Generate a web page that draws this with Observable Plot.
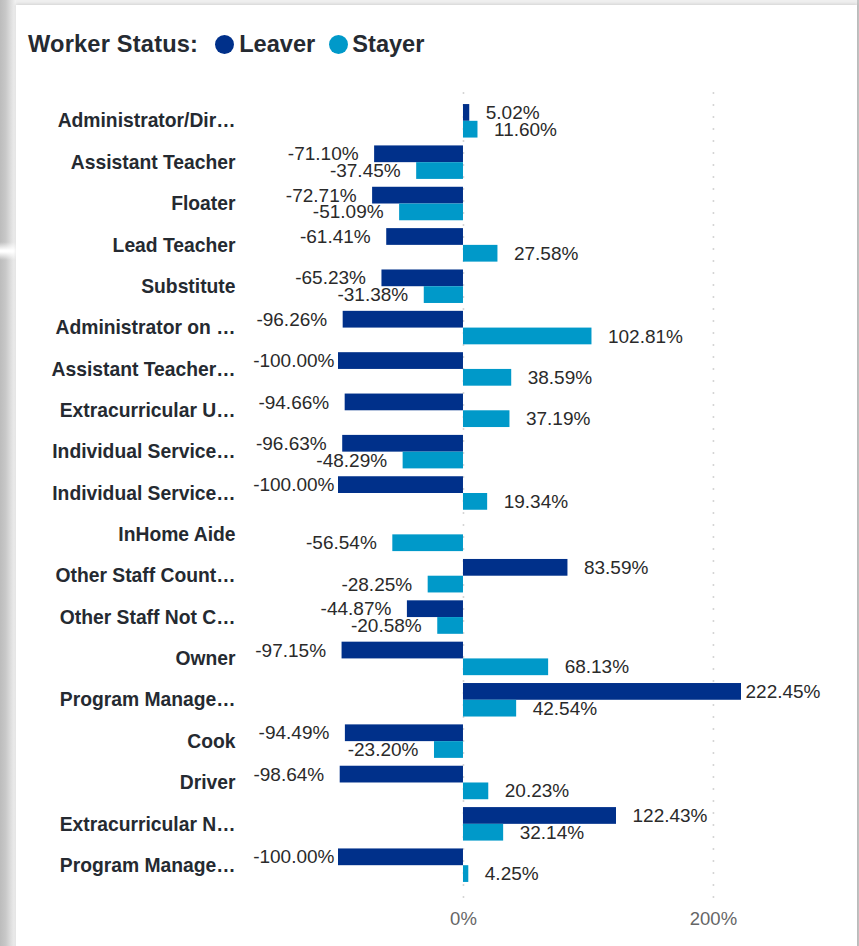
<!DOCTYPE html>
<html>
<head>
<meta charset="utf-8">
<script src="https://cdn.jsdelivr.net/npm/d3@7"></script>
<script src="https://cdn.jsdelivr.net/npm/@observablehq/plot@0.6"></script>
<style>
  html, body { margin: 0; padding: 0; }
  body { width: 859px; height: 946px; background: #efefef; position: relative; overflow: hidden; font-family: "Liberation Sans", Arial, sans-serif; }
  .leftstrip { position: absolute; left: 0; top: 0; width: 16px; height: 946px; background: linear-gradient(to right, #bcbcbc, #c8c8c8 35%, #e6e6e6 80%, #f3f3f3); }
  .gap { position: absolute; left: 0; top: 242px; width: 16px; height: 18px; background: linear-gradient(to bottom, rgba(255,255,255,0), #ffffff 45%, #ffffff 55%, rgba(255,255,255,0)); }
  .rightstrip { position: absolute; left: 857px; top: 0; width: 2px; height: 946px; background: #c4c4c4; }
  .card { position: absolute; left: 16px; top: 5px; width: 841px; height: 960px; background: #fff; box-shadow: 0 -1px 3px rgba(0,0,0,0.12); }
  .legend { position: absolute; left: 28px; top: 29px; height: 30px; display: flex; align-items: center; font-weight: bold; font-size: 23.6px; color: #252a31; white-space: nowrap; }
  .dot { display: inline-block; width: 19px; height: 19px; border-radius: 50%; }
  #chart { position: absolute; left: 0; top: 70px; }
</style>
</head>
<body>
<div class="leftstrip"></div>
<div class="gap"></div>
<div class="rightstrip"></div>
<div class="card"></div>
<div class="legend">
  <span style="letter-spacing:0.2px;">Worker Status:</span>
  <span class="dot" style="background:#00308A; margin-left:17px;"></span>
  <span style="margin-left:5px;">Leaver</span>
  <span class="dot" style="background:#0099C9; margin-left:14px;"></span>
  <span style="margin-left:4px;">Stayer</span>
</div>
<div id="chart"></div>
<script>
const categories = ["Administrator/Dir…", "Assistant Teacher", "Floater", "Lead Teacher", "Substitute", "Administrator on …", "Assistant Teacher…", "Extracurricular U…", "Individual Service…", "Individual Service…", "InHome Aide", "Other Staff Count…", "Other Staff Not C…", "Owner", "Program Manage…", "Cook", "Driver", "Extracurricular N…", "Program Manage…"];
const leaver = [5.02, -71.10, -72.71, -61.41, -65.23, -96.26, -100.00, -94.66, -96.63, -100.00, null, 83.59, -44.87, -97.15, 222.45, -94.49, -98.64, 122.43, -100.00];
const stayer = [11.60, -37.45, -51.09, 27.58, -31.38, 102.81, 38.59, 37.19, -48.29, 19.34, -56.54, -28.25, -20.58, 68.13, 42.54, -23.20, 20.23, 32.14, 4.25];
const seriesNames = ["Leaver", "Stayer"];
const seriesColors = ["#00308A", "#0099C9"];
const xTicks = [0, 200];

const keys = categories.map((c, i) => String(i));
const rows = [];
categories.forEach((c, i) => {
  if (leaver[i] != null) rows.push({key: String(i), series: "Leaver", value: leaver[i]});
  if (stayer[i] != null) rows.push({key: String(i), series: "Stayer", value: stayer[i]});
});

const W = 859, H = 870, mt = 26.2, mb = 50.2, ml = 338, mr = 118;
const pad = 0.19;
const plotH = H - mt - mb;
const step = plotH / (keys.length - pad + 2 * pad);
const bw = step * (1 - pad);
const half = bw / 2;

const [xMin, xMax] = d3.extent(rows, d => d.value);
const fmt = d => d.value.toFixed(2) + "%";
const font = "'Liberation Sans', Arial, sans-serif";

const labelMarks = [];
seriesNames.forEach((s, si) => {
  const dy = si === 0 ? -half / 2 : half / 2;
  const base = {x: "value", y: "key", text: fmt, dy, fontSize: 19, fill: "#2a2a2a", fontFamily: font};
  labelMarks.push(Plot.text(rows.filter(d => d.series === s && d.value >= 0 && d.value < xMax - 0.5), {...base, textAnchor: "start", dx: 16}));
  labelMarks.push(Plot.text(rows.filter(d => d.series === s && d.value >= xMax - 0.5), {...base, textAnchor: "start", dx: 4}));
  labelMarks.push(Plot.text(rows.filter(d => d.series === s && d.value < 0 && d.value > xMin + 0.5), {...base, textAnchor: "end", dx: -16}));
  labelMarks.push(Plot.text(rows.filter(d => d.series === s && d.value <= xMin + 0.5), {...base, textAnchor: "end", dx: -4}));
});

const chart = Plot.plot({
  width: W,
  height: H,
  marginTop: mt,
  marginBottom: mb,
  marginLeft: ml,
  marginRight: mr,
  style: {background: "transparent", fontFamily: font, overflow: "visible"},
  x: {domain: [xMin, xMax], axis: null, label: null},
  y: {type: "band", domain: keys, padding: pad, round: false, axis: null, label: null},
  color: {domain: seriesNames, range: seriesColors},
  marks: [
    Plot.ruleX(xTicks, {stroke: "#c8c8c8", strokeWidth: 1.6, strokeDasharray: "1.6,10.4", insetTop: -4, insetBottom: -8}),
    Plot.barX(rows.filter(d => d.series === "Leaver"), {x: "value", y: "key", fill: "series", insetBottom: half, insetTop: 0}),
    Plot.barX(rows.filter(d => d.series === "Stayer"), {x: "value", y: "key", fill: "series", insetTop: half, insetBottom: 0}),
    ...labelMarks,
    Plot.axisY({label: null, tickSize: 0, tickPadding: 103, tickFormat: k => categories[+k], fontSize: 19.3, fontWeight: "bold", fill: "#252a31", fontFamily: font}),
    Plot.axisX({label: null, ticks: xTicks, tickFormat: d => d + "%", tickSize: 0, tickPadding: 22, fontSize: 18.5, fill: "#666666", fontFamily: font})
  ]
});
document.getElementById("chart").appendChild(chart);
</script>
</body>
</html>
